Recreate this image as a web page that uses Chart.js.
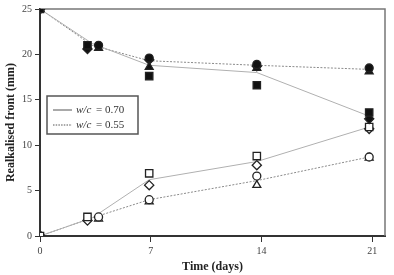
<!DOCTYPE html>
<html>
<head>
<meta charset="utf-8">
<script src="https://cdn.jsdelivr.net/npm/chart.js@4/dist/chart.umd.min.js"></script>
<style>
  html, body { margin: 0; padding: 0; background: #fff; }
  #wrap { width: 394px; height: 275px; }
</style>
</head>
<body>
<div id="wrap"><canvas id="c" width="394" height="275"></canvas></div>
<script>
/* ---------- data ---------- */
const markerDays = [0, 3, 3.7, 6.9, 13.7, 20.8];
const lineDays = [0, 3.3, 6.9, 13.7, 20.8];
const xTicks = [0, 7, 14, 21];

// filled markers (upper group)
const filledSquare   = [25, 21.0, null, 17.6, 16.6, 13.6];
const filledCircle   = [25, null, 21.0, 19.6, 18.9, 18.5];
const filledTriangle = [25, null, 20.7, 18.6, 18.5, 18.1];
const filledDiamond  = [25, 20.6, null, 19.4, 18.7, 12.9];

// open markers (lower group)
const openSquare   = [0, 2.1, null, 6.9, 8.8, 12.0];
const openDiamond  = [0, 1.7, null, 5.6, 7.8, 11.8];
const openCircle   = [0, null, 2.1, 4.0, 6.6, 8.7];
const openTriangle = [0, null, 1.9, 3.8, 5.6, 8.6];

// fitted lines
const upper070 = [25, 21.2, 18.8, 18.0, 13.2];
const upper055 = [25, 21.0, 19.3, 18.8, 18.35];
const lower070 = [0, 2.0, 6.2, 8.2, 12.0];
const lower055 = [0, 2.0, 4.0, 6.1, 8.7];

const legendLabels = ['0.70', '0.55'];

/* ---------- helpers ---------- */
const pts = (xs, ys) => xs.map((x, i) => ({ x, y: ys[i] })).filter(p => p.y !== null);

const markerRadius = { rect: 5.2, circle: 4, triangle: 4.6, rectRot: 4.6 };

function markerSet(ys, style, filled) {
  return {
    data: pts(markerDays, ys),
    pointStyle: style,
    pointRadius: markerRadius[style],
    backgroundColor: filled ? '#111' : '#fff',
    borderColor: '#222',
    borderWidth: 1.3,
    showLine: false,
    order: 1
  };
}

function lineSet(ys, dashed) {
  return {
    data: pts(lineDays, ys),
    showLine: true,
    pointRadius: 0,
    borderColor: dashed ? '#8a8a8a' : '#b0b0b0',
    borderWidth: 1,
    borderDash: dashed ? [2, 1.5] : [],
    fill: false,
    order: 2
  };
}

const SERIF = '"Liberation Serif", "DejaVu Serif", serif';

/* ---------- frame + legend ---------- */
const framePlugin = {
  id: 'frame',
  beforeDatasetsDraw(chart) {
    const { ctx, chartArea: a } = chart;
    ctx.save();
    ctx.strokeStyle = '#777';
    ctx.lineWidth = 1.5;
    ctx.beginPath();
    ctx.moveTo(a.left, a.top);
    ctx.lineTo(a.right, a.top);
    ctx.lineTo(a.right, a.bottom);
    ctx.stroke();
    ctx.restore();
  },
  afterDraw(chart) {
    const { ctx } = chart;
    const bx = 47, by = 96, bw = 91, bh = 38;
    ctx.save();
    ctx.fillStyle = '#fff';
    ctx.fillRect(bx, by, bw, bh);
    ctx.strokeStyle = '#555';
    ctx.lineWidth = 1.5;
    ctx.strokeRect(bx, by, bw, bh);
    legendLabels.forEach((lab, i) => {
      const y = by + 14 + i * 15;
      ctx.strokeStyle = '#555';
      ctx.lineWidth = 1;
      ctx.setLineDash(i === 0 ? [] : [1.5, 1.2]);
      ctx.beginPath();
      ctx.moveTo(53, y);
      ctx.lineTo(72, y);
      ctx.stroke();
      ctx.setLineDash([]);
      ctx.fillStyle = '#333';
      ctx.textBaseline = 'middle';
      ctx.font = 'italic 11px ' + SERIF;
      ctx.fillText('w/c', 76, y);
      const w = ctx.measureText('w/c ').width;
      ctx.font = '11px ' + SERIF;
      ctx.fillText('= ' + lab, 76 + w + 2, y);
    });
    ctx.restore();
  }
};

/* ---------- chart ---------- */
new Chart(document.getElementById('c').getContext('2d'), {
  type: 'scatter',
  data: {
    datasets: [
      lineSet(upper070, false),
      lineSet(upper055, true),
      lineSet(lower070, false),
      lineSet(lower055, true),
      markerSet(filledSquare, 'rect', true),
      markerSet(filledCircle, 'circle', true),
      markerSet(filledTriangle, 'triangle', true),
      markerSet(filledDiamond, 'rectRot', true),
      markerSet(openSquare, 'rect', false),
      markerSet(openDiamond, 'rectRot', false),
      markerSet(openCircle, 'circle', false),
      markerSet(openTriangle, 'triangle', false)
    ]
  },
  options: {
    responsive: false,
    animation: false,
    layout: { padding: { top: 6, right: 9, left: 0, bottom: 0 } },
    plugins: { legend: { display: false }, tooltip: { enabled: false } },
    scales: {
      x: {
        type: 'linear',
        min: 0,
        max: 21.8,
        afterBuildTicks: axis => { axis.ticks = xTicks.map(v => ({ value: v })); },
        afterFit: axis => { axis.height = 39; },
        ticks: { color: '#444', padding: 3, font: { family: SERIF, size: 10 } },
        grid: { drawOnChartArea: false, tickLength: 6, color: '#333', tickWidth: 1 },
        border: { color: '#333', width: 2 },
        title: {
          display: true, text: 'Time (days)', color: '#222',
          font: { family: SERIF, size: 12, weight: 'bold' },
          padding: { top: 0, bottom: 1 }
        }
      },
      y: {
        min: 0,
        max: 25,
        afterFit: axis => { axis.width = 40; },
        ticks: { stepSize: 5, color: '#444', padding: 3, font: { family: SERIF, size: 10 } },
        grid: { drawOnChartArea: false, tickLength: 5, color: '#333', tickWidth: 1 },
        border: { color: '#333', width: 2 },
        title: {
          display: true, text: 'Realkalised front (mm)', color: '#222',
          font: { family: SERIF, size: 12, weight: 'bold' },
          padding: { top: 4, bottom: 0 }
        }
      }
    }
  },
  plugins: [framePlugin]
});
</script>
</body>
</html>
